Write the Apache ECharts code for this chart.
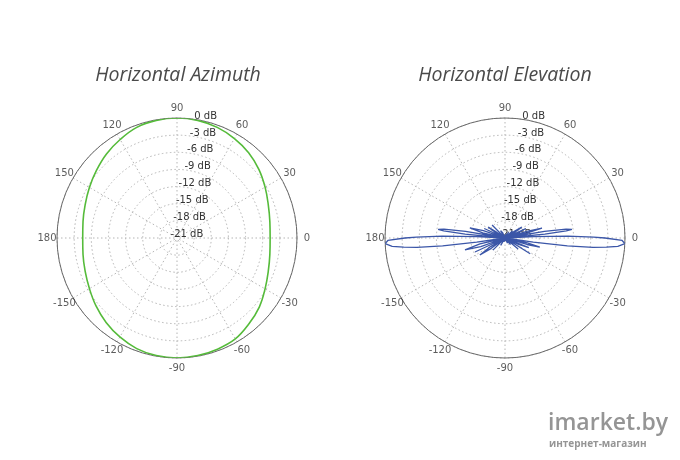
<!DOCTYPE html>
<html><head><meta charset="utf-8">
<script src="https://cdn.jsdelivr.net/npm/echarts@6/dist/echarts.min.js"></script>
<style>html,body{margin:0;padding:0;background:#fff}#c{width:680px;height:460px}</style>
</head><body><div id="c"></div>
<script>
// ---- data ----
var titles = ['Horizontal Azimuth', 'Horizontal Elevation'];
var angleTicks = [0, 30, 60, 90, 120, 150, 180, 210, 240, 270, 300, 330];
var angleTickLabels = ['0', '30', '60', '90', '120', '150', '180', '-150', '-120', '-90', '-60', '-30'];
var dbTicks = [-21, -18, -15, -12, -9, -6, -3, 0];

var azAngles = [0,10,20,30,40,50,60,70,80,90,100,110,120,130,140,150,160,170,180,
  190,200,210,220,230,240,250,260,270,280,290,300,310,320,330,340,350,360];
var azGain = [-4.7,-4.5,-4.0,-3.2,-2.3,-1.5,-0.9,-0.4,-0.1,0,-0.1,-0.4,-1.1,-1.8,-2.6,-3.3,-3.9,-4.3,-4.5,
  -4.3,-3.9,-3.3,-2.5,-1.7,-1.0,-0.4,-0.1,0,-0.1,-0.3,-0.6,-1.4,-2.2,-3.2,-4.0,-4.5,-4.7];

var elAngles = [0,0.6,1.8,2.8,3.5,5.5,6.6,7.4,8.2,9.5,11,13,15,17,19,22,24.5,27,31,33,35.5,38,44,50,58,66,75,84,96,106,114,121,128,135,140,145,147,149,152,155.5,158,161,164,167,169,170.5,171.8,172.6,173.4,174.5,176.5,177.2,178.2,179.4,180,181.2,182.7,184.2,185.2,186.1,187.2,188.2,189,193,196.5,199.5,202,205,208,211,214,217,220,225,230,240,248,256,264,276,286,296,304,310,315,320,324,328,332,335,338,341,343.5,345.5,347.5,351,351.8,352.8,353.9,354.8,355.8,357.3,358.8,360];
var elGain = [-3.5,-5.5,-10,-16,-21,-14,-10.2,-9.2,-10.2,-14,-21,-17,-14.3,-17,-21,-18.5,-17,-21,-19,-17.5,-19,-21,-19.2,-21,-19.8,-21,-20.2,-21,-20.5,-21,-20,-19.5,-21,-17.8,-21,-19,-17.5,-19,-21,-17,-21,-17,-14.6,-17,-21,-14,-10.2,-9.2,-10.2,-14,-21,-16,-10,-5.5,-3.5,-0.5,0,-1.2,-3.2,-5.5,-10,-16,-21,-16.5,-13.7,-16.5,-21,-15.2,-21,-18,-15.7,-18,-21,-18,-21,-19.5,-21,-20.3,-21,-20.5,-21,-20,-21,-19.5,-21,-18,-21,-15.8,-21,-18.5,-16.5,-21,-17,-14.7,-17,-21,-16,-10,-5.5,-3.2,-1.2,0,-0.5,-3.5];

var watermark = ['imarket.by', 'интернет-магазин'];

function pairs(ang, val) { return ang.map(function (a, i) { return [val[i], a]; }); }

var centers = [[177, 238], [505, 238]];
var titleX = [173, 500];
var R = 120;
var gridColor = '#b5b5b5';

var polar = [], angleAxis = [], radiusAxis = [], series = [], title = [];
centers.forEach(function (c, k) {
  var p0 = 3 * k;
  // main polar
  polar.push({ center: c, radius: R });
  angleAxis.push({
    polarIndex: p0, type: 'value', min: 0, max: 360, interval: 30, startAngle: 0, clockwise: false,
    axisLine: { lineStyle: { color: '#6a6a6a', width: 1 } },
    axisTick: { show: false }, axisLabel: { show: false },
    splitLine: { lineStyle: { color: gridColor, type: [1.5, 2.5], width: 1 } }
  });
  radiusAxis.push({
    polarIndex: p0, type: 'value', min: -21, max: 0, interval: 3,
    axisLine: { show: false }, axisTick: { show: false }, axisLabel: { show: false },
    splitLine: { lineStyle: { color: gridColor, type: [1.5, 2.5], width: 1 } }
  });
  // dB labels
  polar.push({ center: c, radius: R });
  angleAxis.push({ polarIndex: p0 + 1, type: 'value', min: 0, max: 360, startAngle: 81, clockwise: false, show: false });
  radiusAxis.push({
    polarIndex: p0 + 1, type: 'value', min: -21, max: 0, interval: 3,
    axisLine: { show: false }, axisTick: { show: false }, splitLine: { show: false },
    axisLabel: { margin: -10, color: '#333', fontSize: 10, fontFamily: 'DejaVu Sans',
      align: 'center', verticalAlign: 'bottom', formatter: '{value} dB' }
  });
  // angle labels ring (centred on radius 130)
  polar.push({ center: c, radius: 130 });
  angleAxis.push({ polarIndex: p0 + 2, type: 'value', min: 0, max: 360, startAngle: 0, clockwise: false, show: false });
  radiusAxis.push({ polarIndex: p0 + 2, type: 'value', min: 0, max: 1, show: false });
  series.push({
    type: 'scatter', coordinateSystem: 'polar', polarIndex: p0 + 2, silent: true,
    data: angleTicks.map(function (a) { return [1, a]; }),
    symbolSize: 1, itemStyle: { color: 'rgba(0,0,0,0)' },
    label: { show: true, position: 'inside', color: '#333', fontSize: 10, fontFamily: 'DejaVu Sans',
      formatter: function (p) { return angleTickLabels[p.dataIndex]; } }
  });
  title.push({
    text: titles[k], left: titleX[k], top: 60, textAlign: 'center',
    textStyle: { fontFamily: 'Open Sans', fontStyle: 'italic', fontWeight: 'normal', fontSize: 19.5, color: '#4a4a4a' }
  });
});

series.push({
  type: 'line', coordinateSystem: 'polar', polarIndex: 0, data: pairs(azAngles, azGain),
  showSymbol: false, smooth: 0.4, lineStyle: { color: '#55bb3a', width: 1.6 }, z: 5
});
series.push({
  type: 'line', coordinateSystem: 'polar', polarIndex: 3, data: pairs(elAngles, elGain),
  showSymbol: false, smooth: false, lineStyle: { color: '#3b56a8', width: 1.3 }, z: 5
});

var chart = echarts.init(document.getElementById('c'));
chart.setOption({
  animation: false,
  backgroundColor: '#fff',
  title: title,
  polar: polar,
  angleAxis: angleAxis,
  radiusAxis: radiusAxis,
  series: series,
  graphic: [
    { type: 'text', left: 548, top: 412, style: { text: watermark[0], fill: '#959595', font: '600 23px "Open Sans"' } },
    { type: 'text', left: 549, top: 439, style: { text: watermark[1], fill: '#959595', font: 'bold 10px "Open Sans"' } }
  ]
});
</script></body></html>
